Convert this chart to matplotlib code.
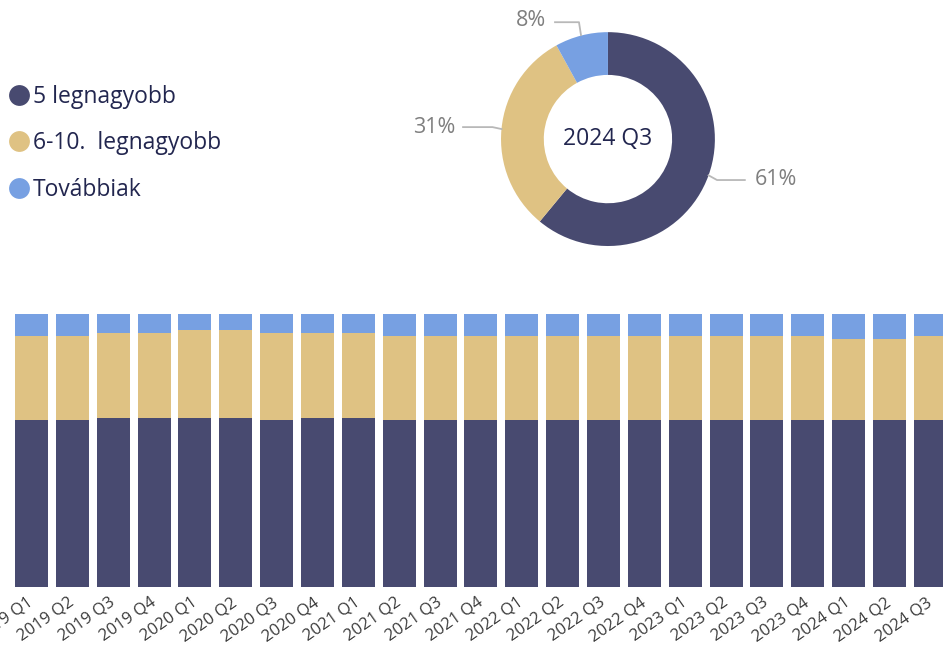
import matplotlib
matplotlib.use("Agg")
import matplotlib.pyplot as plt
from matplotlib.lines import Line2D

plt.rcParams['font.family'] = ['Open Sans', 'DejaVu Sans']

# Quarterly shares (%)
quarters = ["2019 Q1", "2019 Q2", "2019 Q3", "2019 Q4",
            "2020 Q1", "2020 Q2", "2020 Q3", "2020 Q4",
            "2021 Q1", "2021 Q2", "2021 Q3", "2021 Q4",
            "2022 Q1", "2022 Q2", "2022 Q3", "2022 Q4",
            "2023 Q1", "2023 Q2", "2023 Q3", "2023 Q4",
            "2024 Q1", "2024 Q2", "2024 Q3"]
top5 = [61, 61, 62, 62, 62, 62, 61, 62, 62, 61, 61, 61,
        61, 61, 61, 61, 61, 61, 61, 61, 61, 61, 61]
top6_10 = [31, 31, 31, 31, 32, 32, 32, 31, 31, 31, 31, 31,
           31, 31, 31, 31, 31, 31, 31, 31, 30, 30, 31]
rest = [8, 8, 7, 7, 6, 6, 7, 7, 7, 8, 8, 8,
        8, 8, 8, 8, 8, 8, 8, 8, 9, 9, 8]

series_names = ["5 legnagyobb", "6-10.  legnagyobb", "Továbbiak"]
donut_title = "2024 Q3"
donut_values = [61, 31, 8]
donut_labels = ["61%", "31%", "8%"]

colors = ["#484a70", "#dfc283", "#77a0e2"]
navy = "#22264f"

fig = plt.figure(figsize=(9.43, 6.49), dpi=100)

# stacked bars
ax = fig.add_axes([0, 0.0955, 1, 0.4207])
x = list(range(len(quarters)))
ax.bar(x, top5, width=0.81, color=colors[0])
ax.bar(x, top6_10, width=0.81, bottom=top5, color=colors[1])
bottom3 = [a + b for a, b in zip(top5, top6_10)]
ax.bar(x, rest, width=0.81, bottom=bottom3, color=colors[2])
ax.set_xlim(-0.771, 22.31)
ax.set_ylim(0, 100)
for s in ax.spines.values():
    s.set_visible(False)
ax.set_yticks([])
ax.set_xticks(x)
ax.set_xticklabels(quarters, rotation=35, ha="right", va="center",
                   rotation_mode="anchor", fontsize=12, color="#3a3a3a")
ax.tick_params(axis="x", length=0, pad=10)

# donut
ax2 = fig.add_axes([0.4857, 0.5547, 0.318, 0.462])
ax2.pie(donut_values, colors=colors, startangle=90, counterclock=False,
        radius=1, wedgeprops=dict(width=0.4, edgecolor="none"))
ax2.set_xlim(-1.402, 1.402)
ax2.set_ylim(-1.402, 1.402)
ax2.set_aspect("equal")
ax2.axis("off")
ax2.text(0, 0.0, donut_title, ha="center", va="center", fontsize=16.5, color=navy)

lc = "#b8b8b8"
tc = "#7f7f7f"
ax2.plot([0.941, 1.02, 1.28], [-0.339, -0.383, -0.383], color=lc, lw=1.3, clip_on=False)
ax2.text(1.37, -0.375, donut_labels[0], ha="left", va="center", fontsize=15.5, color=tc)
ax2.plot([-0.9956, -1.08, -1.355], [0.094, 0.112, 0.112], color=lc, lw=1.3, clip_on=False)
ax2.text(-1.43, 0.112, donut_labels[1], ha="right", va="center", fontsize=15.5, color=tc)
ax2.plot([-0.252, -0.271, -0.495], [0.972, 1.093, 1.093], color=lc, lw=1.3, clip_on=False)
ax2.text(-0.58, 1.11, donut_labels[2], ha="right", va="center", fontsize=15.5, color=tc)

# legend
handles = [Line2D([], [], marker="o", linestyle="none", markersize=15,
                  markerfacecolor=c, markeredgecolor="none") for c in colors]
leg = fig.legend(handles, series_names, loc="upper left", bbox_to_anchor=(0.006, 0.869),
                 frameon=False, fontsize=16.5, handletextpad=0.0, handlelength=1.2,
                 labelspacing=0.98, borderaxespad=0, borderpad=0)
for t in leg.get_texts():
    t.set_color(navy)

fig.savefig("out.png", dpi=100)
